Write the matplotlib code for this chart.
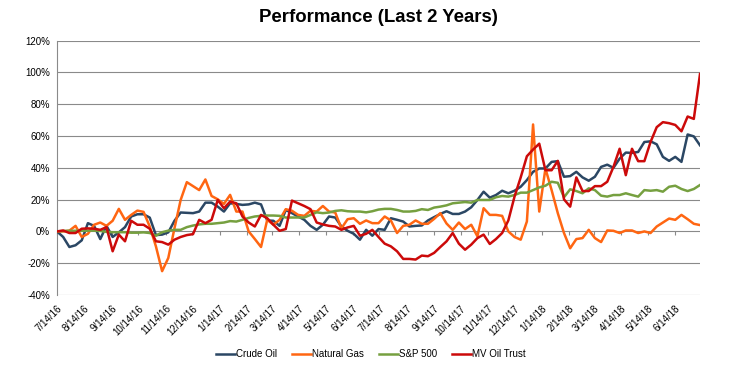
import matplotlib
matplotlib.use('Agg')
import matplotlib.pyplot as plt
import matplotlib.dates as mdates
import pandas as pd

plt.rcParams['font.family'] = ['Liberation Sans', 'DejaVu Sans']

# weekly observations, 7/14/16 .. 7/12/18
dates = pd.date_range('2016-07-14', periods=105, freq='7D')

crude_oil = [0, -3.5, -9.8, -8.7, -5.6, 5.2, 3.5, -4.8, 3.5, -3.5,
             -0.6, 2.7, 9.4, 10.8, 10.8, 8.7, -2.3, -2, -0.6, 6.7,
             11.9, 11.7, 11.5, 12.5, 18.1, 18.1, 15.6, 12.5, 17.7, 17.3,
             16.7, 17, 18.1, 17, 6.9, 6.7, 3.5, 13.5, 11.5, 9.4,
             7.3, 3.5, 1, 4.2, 9.4, 8.75, 3.1, 0.4, -1.5, -5.2,
             1, -2.7, 1.5, 1, 8.3, 7.3, 6.2, 3.1, 3.5, 3.75,
             6.9, 9, 11, 12.7, 11, 11, 12.5, 15.2, 19.8, 25,
             21.25, 22.9, 25.6, 24, 25.6, 28.1, 32.3, 37.5, 39.6, 39.6,
             43.75, 44.2, 34.4, 34.8, 37.5, 34, 31.9, 34.4, 40.6, 42,
             40, 45.8, 49.6, 49.4, 50, 56.25, 56.7, 54.8, 46.9, 44.4,
             46.9, 43.75, 61, 59.8, 54.2]

natural_gas = [0, 0, 0.5, 3.5, -3.5, -1.5, 4.2, 5.6, 3.5, 6.7,
               14.2, 7.3, 10.4, 13.1, 12.3, 3.1, -9.4, -25, -16.7, 2,
               19.8, 31, 28.5, 26, 32.7, 22.3, 20.2, 17.3, 23, 12.5,
               12.5, 0, -4.8, -9.8, 7.3, 4.2, 7.3, 14, 13, 10.4,
               9.8, 13, 12.5, 16, 12.5, 11.9, 1.9, 7.7, 8.3, 4.8,
               6.9, 5.2, 5.2, 9.4, 6.9, -1, 3.5, 4.2, 6.9, 4.8,
               4.8, 7.9, 11.5, 5, 1, 5.6, 1.5, 4.2, -3.1, 14.6,
               10.4, 10.4, 9.8, 0, -3.5, -5.2, 6.25, 67.3, 12.5, 39.6,
               26, 11.5, -1, -10.6, -4.8, -4.2, 1, -4.2, -6.7, 0.6,
               0.4, -1, 0.6, 0.6, -1, 0, -1, 3.1, 5.6, 8.1,
               7.3, 10.4, 7.7, 4.8, 4]

sp500 = [0, 0.3, 0.4, 0.4, 0.4, 0.5, 0.5, 0.3, -0.3, -0.5,
         -0.5, -0.5, -0.8, -0.8, -0.6, -1, -2.7, -0.5, 0.5, 1,
         1, 2.7, 3.7, 4.4, 4.8, 4.8, 5.2, 5.6, 6.5, 6.2,
         7.3, 8.5, 9.4, 9.8, 10, 10, 9.8, 8.75, 8.75, 8.75,
         8.75, 10.4, 12, 11.5, 11.9, 12.9, 13.3, 12.7, 12.5, 12.5,
         12, 12.7, 13.75, 14.2, 14.2, 13.5, 12.5, 12.5, 12.9, 14,
         13.5, 15, 15.6, 16.4, 17.7, 18.1, 18.5, 18.1, 19.8, 19.8,
         19.8, 21.5, 22.3, 21.9, 22.9, 24.4, 24.4, 26, 27.7, 28.75,
         31.25, 30.6, 21.5, 26.5, 25.4, 24, 27.1, 26, 22.5, 21.9,
         22.9, 22.9, 24, 22.9, 21.9, 26, 25.6, 26, 25, 28.1,
         28.75, 26.7, 25.4, 26.7, 29.2]

mv_oil_trust = [0, 0.6, -1, -1, 1.7, 1.9, 1.7, 1, 2.7, -12.5,
                -2, -6.2, 6.7, 4.2, 4.2, 1.7, -6.2, -6.7, -8.3, -5.2,
                -3.5, -2.3, -1.7, 7.3, 5.2, 7.3, 19.8, 14.6, 18.75, 17.7,
                9.4, 5.6, 3.1, 10.4, 8.3, 4.2, 0.4, 1.5, 19.4, 17.7,
                16, 14, 5.6, 4.4, 3.5, 3.1, 1, 2.5, 3.5, -2.7,
                -1.5, 1, -3.5, -7.7, -9.4, -12.5, -17.3, -17.3, -17.7, -15.2,
                -15.6, -13.5, -9.8, -6.25, -1, -7.7, -11.5, -8.3, -4.2, -2,
                -7.9, -4.8, -1, 6.9, 21.9, 34, 47.3, 51.5, 55.2, 38.5,
                38.5, 44.4, 20.2, 15.6, 34, 25.4, 25.4, 28.5, 28.5, 31.25,
                40.6, 52, 35.4, 52, 44.2, 44.2, 56.25, 65.6, 68.75, 68.1,
                67, 63, 72.3, 70.8, 99]

series_names = ['Crude Oil', 'Natural Gas', 'S&P 500', 'MV Oil Trust']
series_values = [crude_oil, natural_gas, sp500, mv_oil_trust]
series_colors = ['#2B4764', '#FF6612', '#76A040', '#CC0A0A']

tick_dates = pd.date_range('2016-07-14', '2018-06-14', freq=pd.DateOffset(months=1))
tick_labels = [f'{d.month}/{d.day}/{d.strftime("%y")}' for d in tick_dates]

W, H = 735, 376
fig = plt.figure(figsize=(W / 100, H / 100), dpi=100)
ax = fig.add_axes([57 / W, 1 - 295 / H, (700 - 57) / W, (295 - 40.7) / H])

grid_c = '#8A8A8A'
for name, vals, col in zip(series_names, series_values, series_colors):
    ax.plot(dates, vals, color=col, lw=1.8, label=name, zorder=3)

ax.set_xlim(dates[0], dates[-1])
ax.set_ylim(-40, 120)
ax.set_yticks(range(-40, 121, 20))
ax.yaxis.set_major_formatter(lambda v, p: f'{int(v)}%')
ax.grid(axis='y', color=grid_c, lw=0.8)
ax.set_axisbelow(True)
ax.tick_params(axis='y', length=0, labelsize=7, pad=5, colors='black')

for s in ['top', 'right']:
    ax.spines[s].set_visible(False)
ax.spines['left'].set_color(grid_c)
ax.spines['left'].set_linewidth(0.8)
ax.spines['bottom'].set_position(('data', 0))
ax.spines['bottom'].set_visible(False)

ax.set_xticks(mdates.date2num(tick_dates))
ax.tick_params(axis='x', length=3, direction='out', color=grid_c, width=0.8,
               labelbottom=False)

sec = ax.secondary_xaxis(0)
sec.set_xticks(mdates.date2num(tick_dates))
sec.set_xticklabels(tick_labels, rotation=45, ha='right', va='top',
                    rotation_mode='anchor', fontsize=7)
sec.tick_params(length=0, pad=6)
sec.spines['bottom'].set_visible(False)

fig.text(378.5 / W, 1 - 17 / H, 'Performance (Last 2 Years)', ha='center',
         va='center', fontsize=13.4, fontweight='bold')

fig.legend(*ax.get_legend_handles_labels(), loc='center',
           bbox_to_anchor=(371 / W, 1 - 354 / H), ncol=4, frameon=False,
           fontsize=7, handlelength=2.0, handletextpad=0.1, columnspacing=1.5)

fig.savefig('out.png', dpi=100)
